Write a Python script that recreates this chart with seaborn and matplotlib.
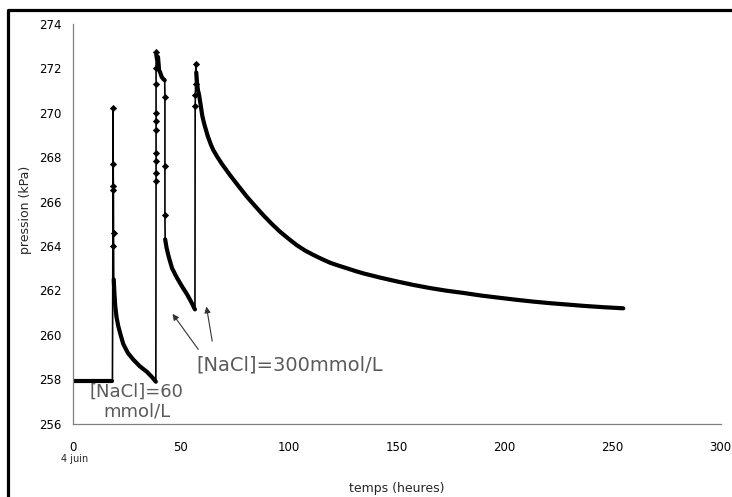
import numpy as np
import pandas as pd
import seaborn as sns
import matplotlib.pyplot as plt
from matplotlib.lines import Line2D

# pressure record
# baseline before the first NaCl step
t_base = [0, 2, 4, 6, 8, 10, 12, 14, 16, 18.4]
p_base = [257.95, 257.95, 257.95, 257.95, 257.95, 257.95, 257.95, 257.95, 257.95, 257.95]

# first step (60 mmol/L): spike then decay
t_spike1 = [18.6, 18.7, 18.75, 18.8, 18.85, 18.9]
p_spike1 = [264.0, 270.2, 267.7, 266.7, 266.5, 264.6]
t_decay1 = [19.0, 19.3, 19.7, 20.3, 21.1, 22.2, 23.4, 25.5, 28.0, 31.0, 34.3, 36.8, 38.5]
p_decay1 = [262.5, 261.9, 261.3, 260.8, 260.4, 260.0, 259.6, 259.2, 258.9, 258.6, 258.35, 258.1, 257.9]

# second step: spike, short plateau, drop and decay
t_spike2 = [38.6, 38.6, 38.6, 38.6, 38.6, 38.6, 38.6, 38.6, 38.6, 38.6]
p_spike2 = [266.9, 267.3, 267.8, 268.2, 269.2, 269.6, 270.0, 271.3, 272.0, 272.7]
t_plateau = [38.7, 39.0, 39.5, 40.0, 40.5, 41.2, 42.0, 42.6]
p_plateau = [272.6, 272.4, 272.5, 271.9, 271.8, 271.6, 271.5, 271.45]
t_drop = [42.7, 42.7, 42.7]
p_drop = [270.7, 267.6, 265.4]
t_decay2 = [42.8, 43.5, 44.5, 46.0, 48.1, 50.5, 52.8, 54.8, 56.6]
p_decay2 = [264.3, 263.9, 263.5, 263.0, 262.6, 262.2, 261.85, 261.5, 261.15]

# third step (300 mmol/L): spike and long decay
t_spike3 = [56.7, 56.8, 56.9, 57.0]
p_spike3 = [270.3, 270.8, 271.3, 272.2]
t_decay3 = [57.2, 57.6, 58.0, 58.5, 59.3, 60.0, 61.0, 62.5, 64.0, 65.1, 67.0, 69.0, 72.8,
            76.7, 80.6, 84.4, 88.2, 92.1, 96.0, 99.9, 103.7, 107.5, 111.4, 115.2,
            119.1, 123.0, 126.9, 130.7, 134.5, 142.3, 150.0, 157.7, 165.4, 173.1,
            180.9, 189.3, 197.8, 205.6, 213.3, 221.0, 228.7, 236.4, 245.6, 254.9]
p_decay3 = [271.8, 271.3, 271.0, 270.8, 270.3, 269.85, 269.45, 268.95, 268.55, 268.31, 268.0, 267.7, 267.19,
            266.7, 266.22, 265.8, 265.39, 265.0, 264.64, 264.33, 264.04, 263.8, 263.6, 263.42,
            263.25, 263.12, 263.0, 262.88, 262.77, 262.58, 262.41, 262.25, 262.11, 261.99,
            261.89, 261.77, 261.67, 261.58, 261.5, 261.43, 261.37, 261.31, 261.25, 261.2]

segments = [
    ('base', t_base, p_base, True),
    ('spike1', t_spike1, p_spike1, False),
    ('decay1', t_decay1, p_decay1, True),
    ('spike2', t_spike2, p_spike2, False),
    ('plateau', t_plateau, p_plateau, True),
    ('drop', t_drop, p_drop, False),
    ('decay2', t_decay2, p_decay2, True),
    ('spike3', t_spike3, p_spike3, False),
    ('decay3', t_decay3, p_decay3, True),
]
frames = []
for name, t, p, thick in segments:
    frames.append(pd.DataFrame({'t': t, 'p': p, 'seg': name, 'thick': thick}))
df = pd.concat(frames, ignore_index=True)

sns.set_style('white')
plt.rcParams['font.family'] = ['DejaVu Sans']

fig = plt.figure(figsize=(7.32, 4.97), dpi=100)
fig.subplots_adjust(left=0.0993, right=0.9846, top=0.9527, bottom=0.1469)
ax = fig.add_subplot(111)

# thin line through every point
sns.lineplot(data=df, x='t', y='p', sort=False, estimator=None, color='black',
             linewidth=1.2, ax=ax)
# the dense parts of the record look like a thick trace
sns.lineplot(data=df[df.thick], x='t', y='p', units='seg', estimator=None, sort=False,
             color='black', linewidth=3.0, solid_joinstyle='round',
             solid_capstyle='round', ax=ax)
# isolated readings on the vertical jumps
sns.scatterplot(data=df[~df.thick], x='t', y='p', marker='D', s=10, color='black',
                edgecolor='black', linewidth=0.5, ax=ax)

ax.set_xlim(0, 300)
ax.set_ylim(256, 274)
ax.set_xticks(np.arange(0, 301, 50))
ax.set_yticks(np.arange(256, 275, 2))

for s in ['top', 'right']:
    ax.spines[s].set_visible(False)
for s in ['left', 'bottom']:
    ax.spines[s].set_color('#808080')
    ax.spines[s].set_linewidth(0.9)
ax.tick_params(direction='inout', length=6, width=0.9, color='#808080',
               labelsize=8.5, labelcolor='black')
ax.tick_params(axis='x', pad=9)
ax.tick_params(axis='y', pad=5)

ax.set_xlabel('temps (heures)', fontsize=9)
ax.set_ylabel('pression (kPa)', fontsize=9)
ax.xaxis.set_label_coords(0.5, -0.145)
ax.yaxis.set_label_coords(-0.063, 0.534)

ax.annotate('4 juin', xy=(1.1, 0), xycoords=('data', 'axes fraction'),
            xytext=(0, -25), textcoords='offset points', ha='center', va='center', fontsize=7)

# annotations
ax.text(29.6, 257.0, '[NaCl]=60\nmmol/L', ha='center', va='center', fontsize=13,
        color='#5a5a5a', linespacing=1.15)
ax.text(100.6, 258.65, '[NaCl]=300mmol/L', ha='center', va='center', fontsize=14,
        color='#5a5a5a')
arrow = dict(arrowstyle='-|>', color='#333333', lw=0.8, mutation_scale=9)
ax.annotate('', xy=(45.5, 261.05), xytext=(58.9, 259.25), arrowprops=arrow)
ax.annotate('', xy=(61.7, 261.4), xytext=(64.8, 259.6), arrowprops=arrow)

# outer frame (left and top edges only)
x0, y0 = 8.3 / 732, 1 - 10 / 497
fig.add_artist(Line2D([x0, x0, 1.0], [0.0, y0, y0], transform=fig.transFigure,
                      color='black', linewidth=2.3))

fig.savefig('out.png', dpi=100)
